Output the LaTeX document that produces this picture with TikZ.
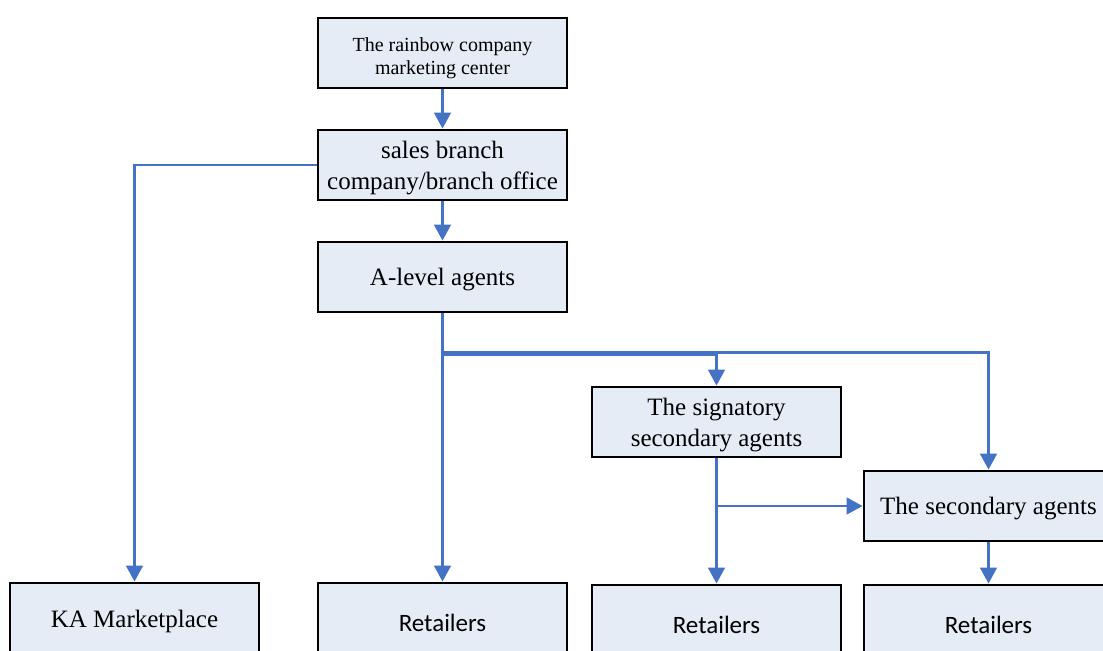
\documentclass[tikz,border=0pt]{standalone}
\usepackage{fontspec}
\setmainfont{Liberation Serif}
\newfontfamily\retfont{Carlito}
\usetikzlibrary{arrows.meta}
\definecolor{boxfill}{HTML}{E6ECF6}
\definecolor{linkblue}{HTML}{4472C4}
\begin{document}
\begin{tikzpicture}[x=0.75pt,y=-0.75pt,
  unit box/.style={draw=black, line width=2.1pt, fill=boxfill,
    minimum width=186.75pt, minimum height=52.5pt, inner sep=0pt},
  tall box/.style={unit box, minimum height=56pt},
  txt/.style={align=center, inner sep=0pt, yshift=-2.25pt,
    font=\fontsize{18.75}{23.25}\selectfont},
  small txt/.style={txt, yshift=-1.5pt, font=\fontsize{15}{17.25}\selectfont},
  sans txt/.style={txt, font=\retfont\fontsize{18.75}{23.25}\selectfont},
  link/.style={draw=linkblue, line width=2pt,
    -{Triangle[length=12pt,width=12.5pt]}}]
\useasboundingbox (0,0) rectangle (1103,650);
\clip (0,0) rectangle (1103,650);

% hierarchy boxes
\node[unit box, label={[small txt]center:{The rainbow company\\marketing center}}]
  (center) at (442.5,53) {};
\node[unit box, label={[txt]center:{sales branch\\company/branch office}}]
  (branch) at (442.5,165) {};
\node[unit box, label={[txt]center:{A-level agents}}]
  (alevel) at (442.5,277) {};
\node[unit box, label={[txt]center:{The signatory\\secondary agents}}]
  (sign) at (716.5,422) {};
\node[unit box, label={[txt]center:{The secondary agents}}]
  (second) at (988.5,506) {};

% outlets along the bottom edge
\node[unit box, label={[txt]center:{KA Marketplace}}]
  (ka) at (134.5,618) {};
\node[tall box, label={[sans txt]center:{Retailers}}]
  (ret1) at (442.5,620.3) {};
\node[tall box, label={[sans txt]center:{Retailers}}]
  (ret2) at (716.5,622.3) {};
\node[tall box, label={[sans txt]center:{Retailers}}]
  (ret3) at (988.5,622.3) {};

% connectors
\draw[link] (center.south) -- (branch.north);
\draw[link] (branch.south) -- (alevel.north);
\draw[link] (branch.west) -| (ka.north);
\draw[link] (alevel.south) -- (ret1.north);
\draw[link] (alevel.south) -- ++(0,41) -| (sign.north);
\draw[link] (alevel.south) -- ++(0,39) -| (second.north);
\draw[link] (sign.south) -- (ret2.north);
\draw[link] (sign.south) |- (second.west);
\draw[link] (second.south) -- (ret3.north);
\end{tikzpicture}
\end{document}
